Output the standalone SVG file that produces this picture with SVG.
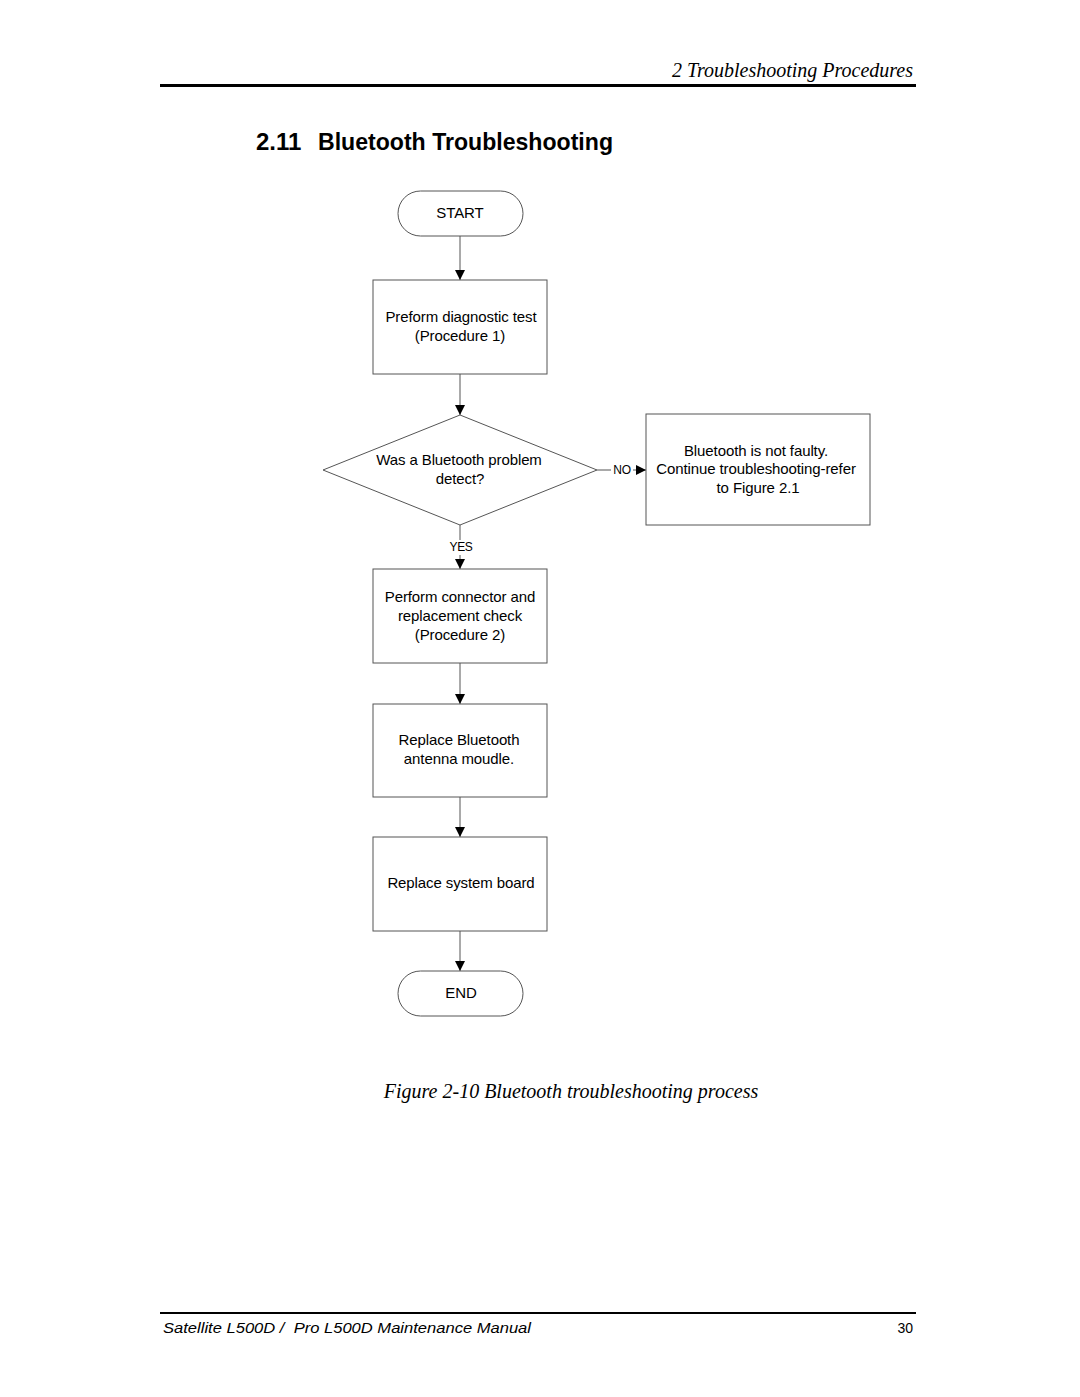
<svg xmlns="http://www.w3.org/2000/svg" width="1080" height="1397" viewBox="0 0 1080 1397">
<style>
.bg{fill:#fff}
.node{fill:#fff;stroke:#555;stroke-width:1}
.t{font-family:"Liberation Sans",Arial,sans-serif;font-size:15px;fill:#000;text-anchor:middle;letter-spacing:-0.1px}
.lbl{font-family:"Liberation Sans",Arial,sans-serif;font-size:12px;fill:#000;text-anchor:middle;letter-spacing:-0.3px}
.conn{stroke:#555;stroke-width:1;fill:none}
.hdr{font-family:"Liberation Serif","Times New Roman",serif;font-style:italic;font-size:20px;fill:#000}
.ttl{font-family:"Liberation Sans",Arial,sans-serif;font-weight:bold;font-size:24px;fill:#000}
</style>
<defs>
<marker id="ah" markerWidth="10" markerHeight="10" refX="10" refY="5" orient="auto" markerUnits="userSpaceOnUse">
<path d="M0,0 L10,5 L0,10 Z" fill="#000"/>
</marker>
</defs>
<rect class="bg" width="1080" height="1397"/>
<text class="hdr" x="913" y="77" text-anchor="end">2 Troubleshooting Procedures</text>
<rect x="160" y="84" width="756" height="3" fill="#000"/>
<text class="ttl" x="256" y="150">2.11</text>
<text class="ttl" x="318" y="150" textLength="295" lengthAdjust="spacingAndGlyphs">Bluetooth Troubleshooting</text>

<g id="connectors">
<line class="conn" x1="460" y1="236" x2="460" y2="280" marker-end="url(#ah)"/>
<line class="conn" x1="460" y1="374" x2="460" y2="415" marker-end="url(#ah)"/>
<line class="conn" x1="597" y1="470" x2="611" y2="470"/>
<text class="lbl" x="622" y="474">NO</text>
<line class="conn" x1="633" y1="470" x2="646" y2="470" marker-end="url(#ah)"/>
<line class="conn" x1="460" y1="525" x2="460" y2="540"/>
<text class="lbl" x="461" y="551">YES</text>
<line class="conn" x1="460" y1="555" x2="460" y2="569" marker-end="url(#ah)"/>
<line class="conn" x1="460" y1="663" x2="460" y2="704" marker-end="url(#ah)"/>
<line class="conn" x1="460" y1="797" x2="460" y2="837" marker-end="url(#ah)"/>
<line class="conn" x1="460" y1="931" x2="460" y2="971" marker-end="url(#ah)"/>
</g>

<g id="start">
<rect class="node" x="398" y="191" width="125" height="45" rx="22.5"/>
<text class="t" x="460" y="218">START</text>
</g>
<g id="diag">
<rect class="node" x="373" y="280" width="174" height="94"/>
<text class="t" x="461" y="322">Preform diagnostic test</text>
<text class="t" x="460" y="341">(Procedure 1)</text>
</g>
<g id="decision">
<polygon class="node" points="460,415 597,470 460,525 323,470"/>
<text class="t" x="459" y="465">Was a Bluetooth problem</text>
<text class="t" x="460" y="484">detect?</text>
</g>
<g id="notfaulty">
<rect class="node" x="646" y="414" width="224" height="111"/>
<text class="t" x="756" y="456">Bluetooth is not faulty.</text>
<text class="t" x="756" y="474">Continue troubleshooting-refer</text>
<text class="t" x="758" y="493">to Figure 2.1</text>
</g>
<g id="connector">
<rect class="node" x="373" y="569" width="174" height="94"/>
<text class="t" x="460" y="602">Perform connector and</text>
<text class="t" x="460" y="621">replacement check</text>
<text class="t" x="460" y="640">(Procedure 2)</text>
</g>
<g id="antenna">
<rect class="node" x="373" y="704" width="174" height="93"/>
<text class="t" x="459" y="745">Replace Bluetooth</text>
<text class="t" x="459" y="764">antenna moudle.</text>
</g>
<g id="board">
<rect class="node" x="373" y="837" width="174" height="94"/>
<text class="t" x="461" y="888">Replace system board</text>
</g>
<g id="end">
<rect class="node" x="398" y="971" width="125" height="45" rx="22.5"/>
<text class="t" x="461" y="998">END</text>
</g>

<text class="hdr" x="571" y="1098" text-anchor="middle">Figure 2-10 Bluetooth troubleshooting process</text>
<rect x="160" y="1312" width="756" height="2" fill="#000"/>
<text x="163" y="1333" font-family="'Liberation Sans',Arial,sans-serif" font-style="italic" font-size="15" fill="#000" textLength="368" lengthAdjust="spacingAndGlyphs" xml:space="preserve">Satellite L500D /  Pro L500D Maintenance Manual</text>
<text x="913" y="1333" font-family="'Liberation Sans',Arial,sans-serif" font-size="14" fill="#000" text-anchor="end">30</text>
</svg>
